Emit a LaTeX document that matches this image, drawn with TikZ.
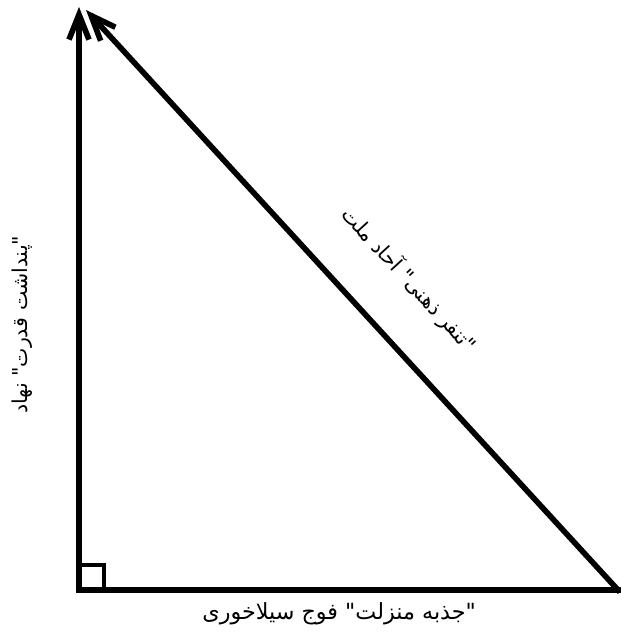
\documentclass[tikz,border=0pt]{standalone}
\usepackage{fontspec}
\usepackage{tikz}
\usetikzlibrary{arrows.meta}
\newfontfamily\arabicfont[Script=Arabic]{DejaVu Sans}
\TeXXeTstate=1
\newcommand{\rtlline}[1]{\beginR#1\endR}

\begin{document}
\begin{tikzpicture}[x=0.03cm, y=0.03cm,
    side/.style={line width=4.8pt, line cap=rect},
    vec/.style={side, -{Straight Barb[length=7.5mm, width=6mm]}},
    axislabel/.style={font=\arabicfont\fontsize{17.5}{20}\selectfont, inner sep=1pt}
  ]
  \useasboundingbox (0,0) rectangle (621,634);
  \coordinate (O) at (79,44);
  \coordinate (top) at (79,627);
  \coordinate (right) at (621,44);
  \coordinate (hypfoot) at (618,44);
  \coordinate (hyptip) at (86,624);
  \coordinate (sq) at (104,69);

  \draw[side] (O) -- (right)
    node[pos=0.48, below=7pt, axislabel, font=\arabicfont\fontsize{19}{22}\selectfont] (lbot) {\rtlline{"جذبه منزلت" فوج سیلاخوری}};
  \draw[vec] (O) -- (top)
    node[pos=0.455, sloped, above=36pt, axislabel] (lleft) {\rtlline{"پنداشت قدرت" نهاد}};
  \draw[vec] (hypfoot) -- (hyptip)
    node[pos=0.47, sloped, above=34pt, axislabel] (lhyp) {\rtlline{"تنفر ذهنی" آحاد ملت}};
  % right angle mark
  \draw[side, line width=3.8pt] (O) rectangle (sq);
\end{tikzpicture}
\end{document}
